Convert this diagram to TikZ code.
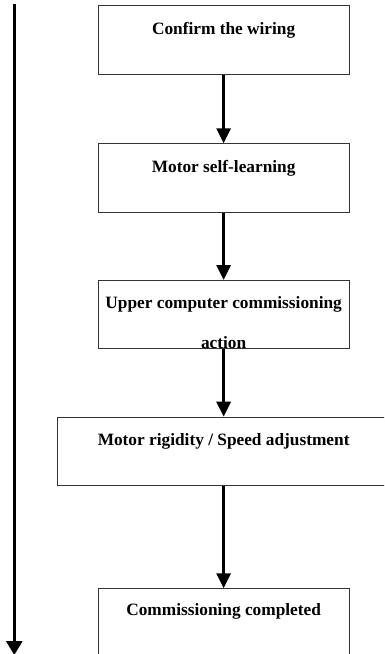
\documentclass[tikz,border=0pt]{standalone}
\usepackage{fontspec}
\setmainfont{Liberation Serif}
\usetikzlibrary{arrows.meta}
\tikzset{
  stepbox/.style={draw=black!80, line width=0.8pt, rectangle, minimum width=250.7pt, minimum height=68.7pt, inner sep=0pt, anchor=north},
  widebox/.style={stepbox, minimum width=333.3pt},
  steptext/.style={anchor=base, inner sep=0pt, font=\fontsize{17.3}{20}\selectfont\bfseries},
  flow/.style={line width=3pt, -{Triangle[width=14pt,length=15pt]}},
  timeline/.style={line width=3pt, -{Triangle[width=16pt,length=14pt]}}
}
\begin{document}
\begin{tikzpicture}[x=1pt,y=-1pt]
\clip (0,0) rectangle (384,654);
\useasboundingbox (0,0) rectangle (384,654);
\node[stepbox] (b1) at (223.65,5.3) {};
\node[stepbox] (b2) at (223.65,143.3) {};
\node[stepbox, minimum height=68.3pt] (b3) at (223.65,280) {};
\node[widebox, minimum height=68.3pt] (b4) at (223.65,416.7) {};
\node[stepbox, minimum height=90pt] (b5) at (223.65,588.3) {};
\node[steptext] (t1) at (223.65,34.3) {Confirm the wiring};
\node[steptext] (t2) at (223.65,172.3) {Motor self-learning};
\node[steptext] (t3a) at (223.65,308.3) {Upper computer commissioning};
\node[steptext] (t3b) at (223.65,348.3) {action};
\node[steptext] (t4) at (223.65,445) {Motor rigidity / Speed adjustment};
\node[steptext] (t5) at (223.65,615.7) {Commissioning completed};
\draw[flow] (b1.south) -- (b2.north);
\draw[flow] (b2.south) -- (b3.north);
\draw[flow] (b3.south) -- (b4.north);
\draw[flow] (b4.south) -- (b5.north);
\coordinate (ltop) at (14.3,4);
\coordinate (lbot) at (14.3,655);
\draw[timeline] (ltop) -- (lbot);
\end{tikzpicture}
\end{document}
